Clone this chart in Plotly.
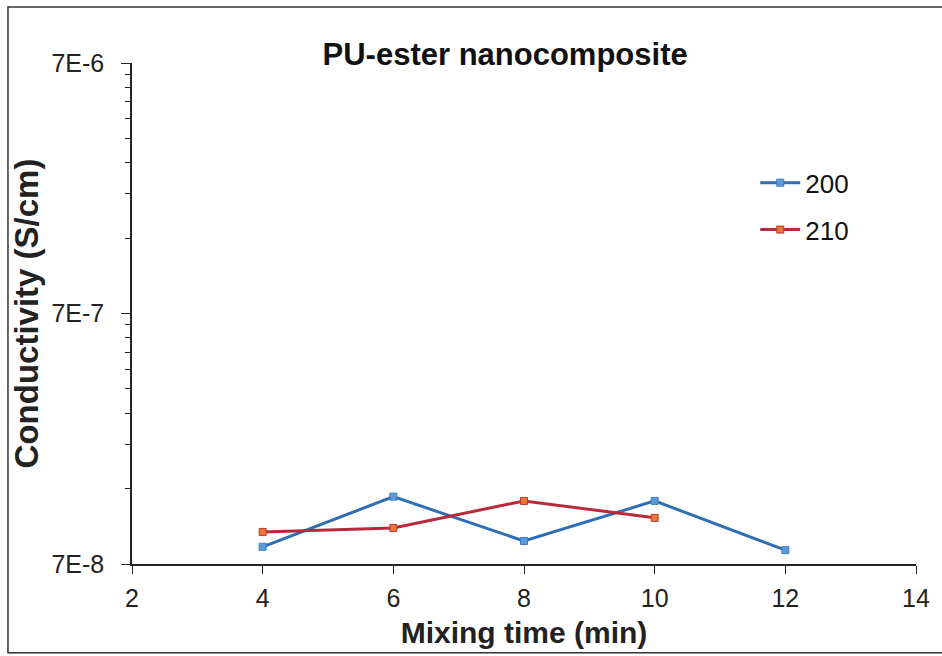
import plotly.graph_objects as go

mixing_time_200 = [4, 6, 8, 10, 12]
cond_200 = [8.2e-8, 1.30e-7, 8.65e-8, 1.25e-7, 7.95e-8]
mixing_time_210 = [4, 6, 8, 10]
cond_210 = [9.4e-8, 9.75e-8, 1.25e-7, 1.07e-7]

x_ticks = [2, 4, 6, 8, 10, 12, 14]
y_major = [7e-8, 7e-7, 7e-6]
y_major_text = ["7E-8", "7E-7", "7E-6"]
y_minor = [7e-8 * k * d for d in (1, 10) for k in range(2, 10)]

W, H = 942, 656
L, R, T, B = 132, 20, 63, 91
pw, ph = W - L - R, H - T - B

font_family = "Liberation Sans, Arial, sans-serif"

fig = go.Figure()
fig.add_trace(go.Scatter(
    x=mixing_time_200, y=cond_200, name="200", mode="lines+markers",
    line=dict(color="#2F6DB5", width=3),
    marker=dict(symbol="square", size=7, color="#5B9BD5", line=dict(color="#3C7DC4", width=1)),
    legend="legend",
))
fig.add_trace(go.Scatter(
    x=mixing_time_210, y=cond_210, name="210", mode="lines+markers",
    line=dict(color="#B8293B", width=3),
    marker=dict(symbol="square", size=7, color="#E8773A", line=dict(color="#C0392B", width=1)),
    legend="legend2",
))

def px_x(p):
    return (p - L) / pw

def px_y(p):
    return (H - B - p) / ph

fig.update_layout(
    width=W, height=H,
    margin=dict(l=L, r=R, t=T, b=B, pad=0),
    paper_bgcolor="white", plot_bgcolor="white",
    font=dict(family=font_family, color="#222222", size=25),
    title=dict(text="<b>PU-ester nanocomposite</b>", x=px_x(508), xref="paper", xanchor="center",
               y=1 - 54 / H, yanchor="middle", font=dict(size=31, color="#111111")),
    xaxis=dict(
        range=[2, 14], tickvals=x_ticks, ticktext=[str(v) for v in x_ticks],
        showline=True, linecolor="#222222", linewidth=1.5,
        ticks="outside", ticklen=8, tickwidth=1.2, tickcolor="#222222",
        showgrid=False, zeroline=False,
        title=dict(text="<b>Mixing time (min)</b>", font=dict(size=30, color="#222222"), standoff=11),
        tickfont=dict(size=25),
        ticklabelstandoff=3,
    ),
    yaxis=dict(
        type="log", range=[-8 + 0.8450980, -6 + 0.8450980],
        tickvals=y_major, ticktext=y_major_text,
        showline=True, linecolor="#222222", linewidth=1.5,
        ticks="outside", ticklen=9, tickwidth=1.2, tickcolor="#222222",
        minor=dict(tickvals=y_minor, ticks="outside", ticklen=5, tickwidth=1, tickcolor="#222222"),
        showgrid=False, zeroline=False,
        title=dict(text="<b>Conductivity (S/cm)</b>", font=dict(size=33, color="#222222"), standoff=3),
        tickfont=dict(size=25),
        ticklabelstandoff=12,
    ),
    legend=dict(x=px_x(760), y=px_y(183), xanchor="left", yanchor="middle",
                bgcolor="rgba(0,0,0,0)", font=dict(size=26, color="#111111"), itemwidth=40),
    legend2=dict(x=px_x(760), y=px_y(230), xanchor="left", yanchor="middle",
                 bgcolor="rgba(0,0,0,0)", font=dict(size=26, color="#111111"), itemwidth=40),
    showlegend=True,
)

fig.add_shape(type="rect", xref="paper", yref="paper",
              x0=px_x(7), x1=px_x(950), y0=px_y(654), y1=px_y(7),
              line=dict(color="#333333", width=1.5), fillcolor="rgba(0,0,0,0)", layer="below")

fig.write_html("out.html")
